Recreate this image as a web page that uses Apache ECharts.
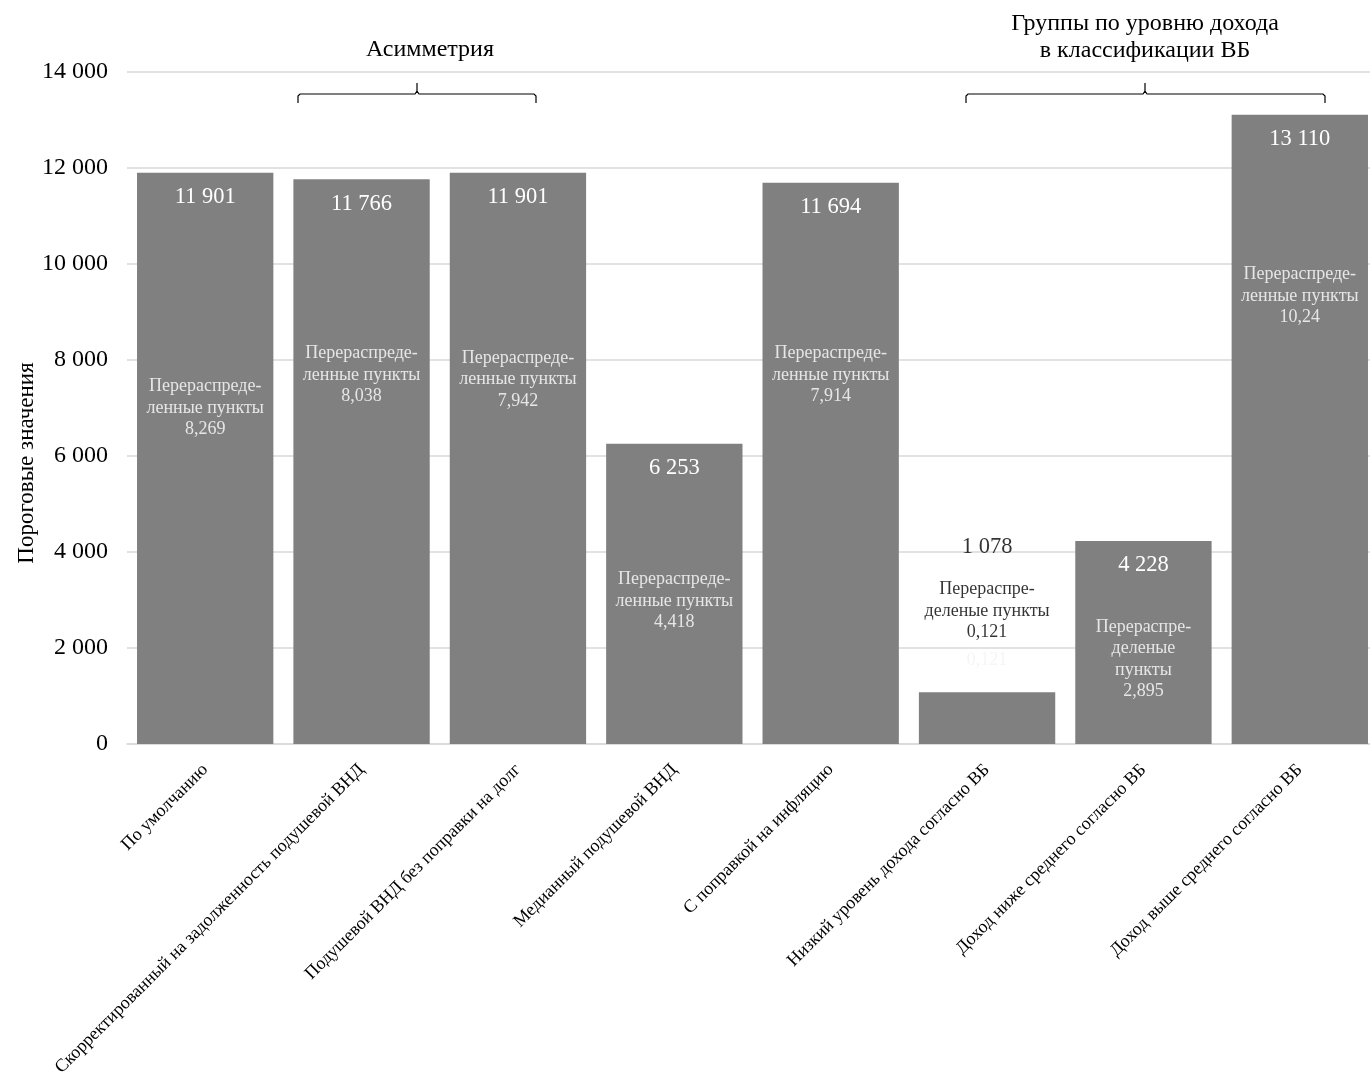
<!DOCTYPE html>
<html><head><meta charset="utf-8">
<script src="https://cdn.jsdelivr.net/npm/echarts@6/dist/echarts.min.js"></script>
<style>html,body{margin:0;padding:0;background:#fff}#c{width:1370px;height:1080px}</style>
</head><body><div id="c"></div>
<script>
const categories = [
  'По умолчанию',
  'Скорректированный на задолженность подушевой ВНД',
  'Подушевой ВНД без поправки на долг',
  'Медианный подушевой ВНД',
  'С поправкой на инфляцию',
  'Низкий уровень дохода согласно ВБ',
  'Доход ниже среднего согласно ВБ',
  'Доход выше среднего согласно ВБ'
];
const thresholds = [11901, 11766, 11901, 6253, 11694, 1078, 4228, 13110];
const valueLabels = ['11 901', '11 766', '11 901', '6 253', '11 694', '1 078', '4 228', '13 110'];
const redistributed = ['8,269', '8,038', '7,942', '4,418', '7,914', '0,121', '2,895', '10,24'];
const redistLabelText = [
  'Перераспреде-\nленные пункты',
  'Перераспреде-\nленные пункты',
  'Перераспреде-\nленные пункты',
  'Перераспреде-\nленные пункты',
  'Перераспреде-\nленные пункты',
  'Перераспре-\nделеные пункты',
  'Перераспре-\nделеные\nпункты',
  'Перераспреде-\nленные пункты'
];
const yTicks = [0, 2000, 4000, 6000, 8000, 10000, 12000, 14000];
const yAxisTitle = 'Пороговые значения';
const group1Title = 'Асимметрия';
const group2Title = 'Группы по уровню дохода\nв классификации ВБ';

// anchor heights (axis units) for annotation blocks
const redistAnchor = [7000, 7690, 7590, 2980, 7690, 2770, 1770, 9330];
const outsideValueAnchor = {5: 4100};
const ghostLabel = {index: 5, anchor: 1750, text: '0,121'};

const FONT = '"Liberation Serif", "Times New Roman", serif';
const chart = echarts.init(document.getElementById('c'));

const barData = thresholds.map((v, i) => ({
  value: v,
  label: outsideValueAnchor[i] !== undefined ? {show: false} : undefined
}));

const annData = [];
redistributed.forEach((r, i) => {
  annData.push({
    value: [i, redistAnchor[i]],
    text: redistLabelText[i] + '\n' + r,
    label: {color: i === 5 ? '#000' : '#fff', fontSize: 18, lineHeight: 21.5}
  });
});
Object.keys(outsideValueAnchor).forEach(k => {
  const i = +k;
  annData.push({
    value: [i, outsideValueAnchor[k]],
    text: valueLabels[i],
    label: {color: '#000', fontSize: 22.5, lineHeight: 24}
  });
});
annData.push({
  value: [ghostLabel.index, ghostLabel.anchor],
  text: ghostLabel.text,
  label: {color: '#f3f3f3', fontSize: 18, lineHeight: 21.5}
});

chart.setOption({
  animation: false,
  backgroundColor: '#fff',
  textStyle: {fontFamily: FONT},
  grid: {left: 127, right: -8, top: 72, bottom: 336, outerBoundsMode: 'none', containLabel: false},
  xAxis: {
    type: 'category',
    data: categories,
    axisLine: {lineStyle: {color: '#d9d9d9', width: 1.5}},
    axisTick: {show: false},
    axisLabel: {rotate: 45, interval: 0, fontSize: 18, color: '#000', fontFamily: FONT, margin: 23}
  },
  yAxis: {
    type: 'value',
    min: 0, max: 14000, interval: 2000,
    axisLine: {show: false},
    axisTick: {show: false},
    splitLine: {lineStyle: {color: '#d9d9d9', width: 1.5}},
    axisLabel: {
      fontSize: 24, color: '#000', fontFamily: FONT, margin: 19,
      formatter: v => yTicks.includes(v) ? String(v).replace(/\B(?=(\d{3})+(?!\d))/g, ' ') : ''
    }
  },
  series: [
    {
      type: 'bar',
      data: barData,
      barCategoryGap: '12.8%',
      itemStyle: {color: '#808080'},
      label: {
        show: true, position: 'insideTop', distance: 13,
        color: '#fff', fontSize: 22.5, fontFamily: FONT,
        formatter: p => valueLabels[p.dataIndex]
      }
    },
    {
      type: 'scatter',
      symbolSize: 0,
      data: annData,
      silent: true,
      label: {
        show: true, position: 'inside', fontFamily: FONT, align: 'center',
        formatter: p => annData[p.dataIndex].text
      },
      z: 5
    }
  ],
  graphic: [
    {type: 'text', x: 27, y: 463, rotation: Math.PI / 2, style: {text: yAxisTitle, font: '23px ' + FONT, fill: '#000', align: 'center', verticalAlign: 'middle'}},
    {type: 'text', x: 430, y: 50, style: {text: group1Title, font: '24px ' + FONT, fill: '#000', align: 'center', verticalAlign: 'middle'}},
    {type: 'text', x: 1145, y: 37, style: {text: group2Title, font: '24px ' + FONT, fill: '#000', align: 'center', verticalAlign: 'middle', lineHeight: 27}},
    {type: 'polyline', shape: {points: [[298,103],[298,96],[300,94],[415,94],[417,91],[417,83],[417,91],[419,94],[534,94],[536,96],[536,103]]}, style: {stroke: '#000', lineWidth: 1.2, fill: null}},
    {type: 'polyline', shape: {points: [[966,103],[966,96],[968,94],[1143,94],[1145,91],[1145,83],[1145,91],[1147,94],[1323,94],[1325,96],[1325,103]]}, style: {stroke: '#000', lineWidth: 1.2, fill: null}}
  ]
});
</script></body></html>
